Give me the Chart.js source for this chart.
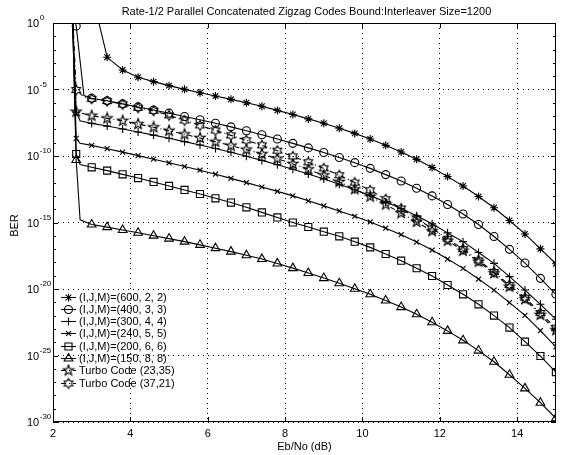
<!DOCTYPE html>
<html><head><meta charset="utf-8">
<script src="https://cdn.jsdelivr.net/npm/chart.js@4.4.1/dist/chart.umd.min.js"></script>
<style>html,body{margin:0;padding:0;background:#fff}#wrap{width:562px;height:455px;position:relative}canvas{display:block}</style>
</head><body><div id="wrap"><canvas id="c" width="562" height="455"></canvas></div>
<script>
// ---------------- text ----------------
const chartTitle = 'Rate-1/2 Parallel Concatenated Zigzag Codes Bound:Interleaver Size=1200';
const xAxisTitle = 'Eb/No (dB)';
const yAxisTitle = 'BER';

// ---------------- axes ----------------
const xTickValues = [2, 4, 6, 8, 10, 12, 14];
const yTickExponents = [0, -5, -10, -15, -20, -25, -30];

// ---------------- data (Eb/No in dB, BER given as log10 exponent) ----------------
const ebno = [2.5, 2.6, 2.7, 2.8, 3.0, 3.2, 3.4, 3.8, 4.2, 4.6, 5.0, 5.4, 5.8, 6.2, 6.6, 7.0, 7.4, 7.8, 8.2, 8.6,
  9.0, 9.4, 9.8, 10.2, 10.6, 11.0, 11.4, 11.8, 12.2, 12.6, 13.0, 13.4, 13.8, 14.2, 14.6, 15.0];

const seriesNames = ['(I,J,M)=(600, 2, 2)', '(I,J,M)=(400, 3, 3)', '(I,J,M)=(300, 4, 4)', '(I,J,M)=(240, 5, 5)',
  '(I,J,M)=(200, 6, 6)', '(I,J,M)=(150, 8, 8)', 'Turbo Code (23,35)', 'Turbo Code (37,21)'];

const ber600 = [null, null, null, null, 2.3, null, -2.58, -3.53, -4.08, -4.41, -4.71, -4.99, -5.24, -5.49, -5.74, -5.99,
  -6.26, -6.57, -6.88, -7.21, -7.54, -7.91, -8.30, -8.72, -9.2, -9.70, -10.25, -10.87, -11.55, -12.26, -13.05, -13.89,
  -14.85, -15.86, -16.98, -18.1];
const ber400 = [1.0, -0.23, null, -5.45, -5.66, null, -5.85, -6.08, -6.31, -6.54, -6.78, -7.03, -7.28, -7.54, -7.81, -8.1,
  -8.4, -8.72, -9.05, -9.39, -9.74, -10.11, -10.5, -10.93, -11.4, -11.88, -12.42, -13.0, -13.65, -14.36, -15.15, -16.05,
  -17.02, -18.05, -19.2, -20.4];
const ber300 = [1.0, -6.7, -7.35, null, -7.55, null, -7.75, -7.97, -8.2, -8.43, -8.67, -8.92, -9.17, -9.44, -9.72, -10.02,
  -10.33, -10.66, -11.0, -11.36, -11.73, -12.12, -12.54, -12.98, -13.45, -13.95, -14.5, -15.1, -15.78, -16.44, -17.25,
  -18.07, -19.07, -20.08, -21.15, -22.28];
const ber240 = [1.0, -8.67, -9.05, null, -9.2, null, -9.45, -9.71, -9.97, -10.24, -10.51, -10.79, -11.07, -11.37, -11.68,
  -12.0, -12.33, -12.66, -13.0, -13.37, -13.75, -14.13, -14.53, -14.96, -15.43, -15.92, -16.47, -17.07, -17.75, -18.45,
  -19.25, -20.08, -21.02, -21.98, -23.13, -24.35];
const ber200 = [1.0, -9.85, -10.65, null, -10.85, null, -11.1, -11.38, -11.66, -11.95, -12.25, -12.55, -12.86, -13.18,
  -13.5, -13.86, -14.24, -14.62, -15.0, -15.34, -15.69, -16.04, -16.44, -16.87, -17.37, -17.87, -18.44, -19.02, -19.7,
  -20.4, -21.15, -22.0, -22.9, -23.96, -25.04, -26.25];
const ber150 = [1.0, -10.3, -14.8, null, -15.15, null, -15.35, -15.56, -15.77, -15.99, -16.21, -16.44, -16.68, -16.93,
  -17.19, -17.46, -17.74, -18.08, -18.43, -18.8, -19.18, -19.57, -19.98, -20.4, -20.86, -21.36, -21.9, -22.5, -23.15,
  -23.86, -24.63, -25.47, -26.45, -27.47, -28.55, -29.72];
const berTurbo2335 = [1.0, -6.67, null, null, -6.97, null, -7.17, -7.35, -7.6, -7.84, -8.1, -8.37, -8.64, -8.93, -9.22,
  -9.52, -9.85, -10.2, -10.6, -11.0, -11.45, -11.95, -12.5, -13.05, -13.65, -14.3, -14.95, -15.65, -16.37, -17.12,
  -17.95, -18.82, -19.83, -20.77, -21.95, -23.1];
const berTurbo3721 = [1.0, -5.04, null, -5.55, -5.7, null, -5.87, -6.12, -6.37, -6.6, -6.95, -7.33, -7.7, -8.08, -8.45,
  -8.82, -9.2, -9.6, -10.03, -10.47, -10.93, -11.45, -12.0, -12.58, -13.25, -13.95, -14.7, -15.45, -16.22, -17.0,
  -17.85, -18.72, -19.7, -20.65, -21.8, -22.95];

// ---------------- styling ----------------
const FONT = '"Liberation Sans", Arial, Helvetica, sans-serif';
function makeStar(points, rOut, rIn, size) {
  const c = document.createElement('canvas');
  c.width = size; c.height = size;
  const g = c.getContext('2d');
  g.strokeStyle = '#000'; g.lineWidth = 1.1;
  g.beginPath();
  for (let i = 0; i < points * 2; i++) {
    const r = i % 2 === 0 ? rOut : rIn;
    const a = -Math.PI / 2 + i * Math.PI / points;
    const px = size / 2 + r * Math.cos(a), py = size / 2 + r * Math.sin(a);
    if (i === 0) g.moveTo(px, py); else g.lineTo(px, py);
  }
  g.closePath(); g.stroke();
  return c;
}
const pentagram = makeStar(5, 5.5, 2.2, 14);
const hexagram = makeStar(6, 5, 2.9, 14);

const allSeries = [ber600, ber400, ber300, ber240, ber200, ber150, berTurbo2335, berTurbo3721];
const markerStyles = ['star', 'circle', 'cross', 'crossRot', 'rect', 'triangle', pentagram, hexagram];
const markerSizes = [4, 4, 4, 3.5, 5, 5, 5, 5];
const lineDashes = [[], [], [], [], [], [], [5, 3, 1, 3], [5, 3, 1, 3]];

function isMarkerX(x) {
  const k = (x - 2.6) / 0.4;
  return k > -1e-6 && Math.abs(k - Math.round(k)) < 1e-6;
}

const datasets = allSeries.map((arr, i) => ({
  label: seriesNames[i],
  data: ebno.map((x, j) => arr[j] === null ? null : { x: x, y: Math.pow(10, arr[j]) }).filter(p => p !== null),
  borderColor: '#000',
  borderWidth: 1.1,
  borderDash: lineDashes[i],
  tension: 0,
  fill: false,
  pointStyle: markerStyles[i],
  pointRadius: ctx => (ctx.raw && isMarkerX(ctx.raw.x)) ? markerSizes[i] : 0,
  pointHoverRadius: 0,
  pointBorderColor: '#000',
  pointBackgroundColor: 'rgba(0,0,0,0)',
  pointBorderWidth: 1.1
}));

// ---------------- decoration plugin ----------------
const decor = {
  id: 'decor',
  afterDraw(chart) {
    const ctx = chart.ctx;
    const a = chart.chartArea;
    const xs = chart.scales.x, ys = chart.scales.y;
    ctx.save();
    ctx.strokeStyle = '#000';
    ctx.fillStyle = '#000';
    ctx.lineWidth = 1;
    ctx.setLineDash([]);
    // box
    ctx.strokeRect(Math.round(a.left) + 0.5, Math.round(a.top) + 0.5, Math.round(a.right - a.left) - 1, Math.round(a.bottom - a.top) - 1);
    // inward ticks
    ctx.beginPath();
    xTickValues.forEach(v => {
      const px = Math.round(xs.getPixelForValue(v)) + 0.5;
      ctx.moveTo(px, a.bottom); ctx.lineTo(px, a.bottom - 5);
      ctx.moveTo(px, a.top); ctx.lineTo(px, a.top + 5);
    });
    for (let e = 0; e >= -30; e--) {
      const py = Math.round(ys.getPixelForValue(Math.pow(10, e))) + 0.5;
      const len = (e % 5 === 0) ? 5 : 3;
      ctx.moveTo(a.left, py); ctx.lineTo(a.left + len, py);
      ctx.moveTo(a.right, py); ctx.lineTo(a.right - len, py);
    }
    ctx.stroke();
    // y tick labels 10^e
    yTickExponents.forEach(e => {
      const py = ys.getPixelForValue(Math.pow(10, e));
      ctx.font = '11px ' + FONT;
      ctx.textAlign = 'left'; ctx.textBaseline = 'middle';
      ctx.fillText('10', 27, py + 1);
      const w = ctx.measureText('10').width;
      ctx.font = '8px ' + FONT;
      ctx.fillText(String(e), 27 + w + 0.5, py - 5);
    });
    // titles
    ctx.font = '11px ' + FONT;
    ctx.textAlign = 'center'; ctx.textBaseline = 'middle';
    ctx.fillText(chartTitle, (a.left + a.right) / 2 + 2, 12);
    ctx.fillText(xAxisTitle, (a.left + a.right) / 2, 447);
    ctx.save();
    ctx.translate(15, (a.top + a.bottom) / 2 + 3);
    ctx.rotate(-Math.PI / 2);
    ctx.fillText(yAxisTitle, 0, 0);
    ctx.restore();
    // legend
    const lx0 = 61, lx1 = 76, tx = 79, ly0 = 296.5, lstep = 12.3;
    chart.data.datasets.forEach((ds, i) => {
      const y = Math.round(ly0 + i * lstep) + 0.5;
      ctx.save();
      ctx.lineWidth = 1.1;
      ctx.setLineDash(ds.borderDash || []);
      ctx.beginPath(); ctx.moveTo(lx0, y); ctx.lineTo(lx1, y); ctx.stroke();
      ctx.setLineDash([]);
      ctx.fillStyle = 'rgba(0,0,0,0)';
      ctx.strokeStyle = '#000';
      Chart.helpers.drawPoint(ctx, { pointStyle: markerStyles[i], radius: markerSizes[i], rotation: 0, borderWidth: 1.1 }, (lx0 + lx1) / 2, y);
      ctx.restore();
      ctx.font = '11px ' + FONT;
      ctx.textAlign = 'left'; ctx.textBaseline = 'middle';
      ctx.fillText(ds.label, tx, y);
    });
    ctx.restore();
  }
};

new Chart(document.getElementById('c'), {
  type: 'line',
  data: { datasets },
  options: {
    responsive: false,
    animation: false,
    devicePixelRatio: 1,
    layout: { padding: { top: 23, right: 2, left: 0, bottom: 0 } },
    plugins: { legend: { display: false }, title: { display: false }, tooltip: { enabled: false } },
    scales: {
      x: {
        type: 'linear', min: 2, max: 15,
        afterBuildTicks: s => { s.ticks = xTickValues.map(v => ({ value: v })); },
        afterFit: s => { s.height = 33; },
        grid: { color: '#000', lineWidth: 1, drawTicks: false },
        border: { display: false, dash: [1, 4] },
        ticks: { color: '#000', font: { family: FONT, size: 11 }, padding: 5, maxRotation: 0 }
      },
      y: {
        type: 'logarithmic', min: 1e-30, max: 1,
        afterBuildTicks: s => { s.ticks = yTickExponents.map(e => ({ value: Math.pow(10, e) })); },
        afterFit: s => { s.width = 53; },
        grid: { color: '#000', lineWidth: 1, drawTicks: false },
        border: { display: false, dash: [1, 4] },
        ticks: { display: false }
      }
    }
  },
  plugins: [decor]
});
</script></body></html>
